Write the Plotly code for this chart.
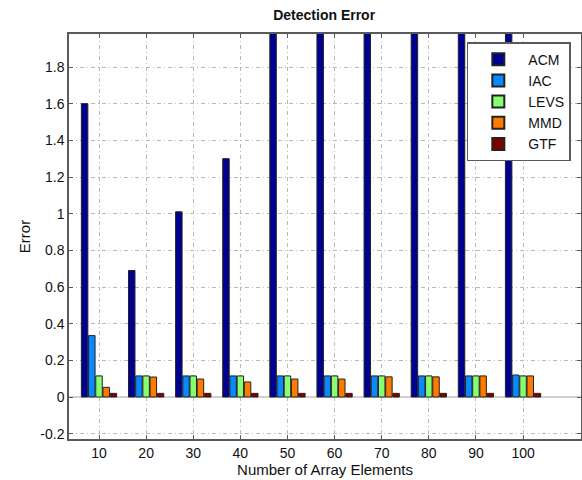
import plotly.graph_objects as go

categories = [10, 20, 30, 40, 50, 60, 70, 80, 90, 100]
series_names = ["ACM", "IAC", "LEVS", "MMD", "GTF"]
acm = [1.60, 0.69, 1.01, 1.30, 2.4, 2.8, 3.2, 3.6, 4.0, 4.4]
iac = [0.335, 0.115, 0.115, 0.115, 0.115, 0.115, 0.115, 0.115, 0.115, 0.12]
levs = [0.115, 0.115, 0.115, 0.115, 0.115, 0.115, 0.115, 0.115, 0.115, 0.115]
mmd = [0.053, 0.109, 0.098, 0.082, 0.098, 0.098, 0.11, 0.11, 0.115, 0.115]
gtf = [0.02, 0.02, 0.02, 0.02, 0.02, 0.02, 0.02, 0.02, 0.02, 0.02]
colors = ["#000090", "#0A88FF", "#88FF70", "#FF7A00", "#800000"]
y_tickvals = [-0.2, 0, 0.2, 0.4, 0.6, 0.8, 1.0, 1.2, 1.4, 1.6, 1.8]
y_ticktext = ["-0.2", "0", "0.2", "0.4", "0.6", "0.8", "1", "1.2", "1.4", "1.6", "1.8"]

series = [acm, iac, levs, mmd, gtf]
font_family = "Liberation Sans, Arial, Helvetica, sans-serif"

fig = go.Figure()
for name, vals, col in zip(series_names, series, colors):
    fig.add_trace(go.Bar(
        x=categories, y=vals, name=name,
        marker=dict(color=col, line=dict(color="#222222", width=1)),
    ))

axis_common = dict(
    showline=True, linecolor="#5a5a5a", linewidth=1.5, mirror="ticks",
    ticks="inside", ticklen=4, tickcolor="#5a5a5a",
    showgrid=True, gridcolor="#b8b8b8", griddash="4px,3px,1px,3px", gridwidth=1,
    tickfont=dict(size=14, color="#111"),
    automargin=False,
)

fig.update_layout(
    width=582, height=480,
    margin=dict(l=69, r=1, t=34, b=41),
    paper_bgcolor="white", plot_bgcolor="white",
    font=dict(family=font_family, color="#111"),
    barmode="group", bargap=0.236, bargroupgap=0.1,
    title=dict(text="<b>Detection Error</b>", x=0.557, xanchor="center",
               y=0.969, yanchor="middle", font=dict(size=14, color="#111")),
    xaxis=dict(
        range=[3.63, 112.3], tickvals=categories,
        ticktext=[str(c) for c in categories],
        title=dict(text="Number of Array Elements", font=dict(size=15), standoff=2),
        zeroline=False, **axis_common,
    ),
    yaxis=dict(
        range=[-0.229, 1.98], tickvals=y_tickvals, ticktext=y_ticktext,
        title=dict(text="Error", font=dict(size=15), standoff=6),
        zeroline=True, zerolinecolor="#d0d0d0", zerolinewidth=1.5,
        **axis_common,
    ),
    legend=dict(
        x=0.777, y=0.98, xanchor="left", yanchor="top",
        bgcolor="white", bordercolor="#5a5a5a", borderwidth=1.5,
        font=dict(size=14, color="#111"), tracegroupgap=0,
        itemsizing="constant", itemwidth=50,
    ),
)

fig.write_html("out.html", config={"displayModeBar": False},
               post_script="document.body.style.margin='0px';")
